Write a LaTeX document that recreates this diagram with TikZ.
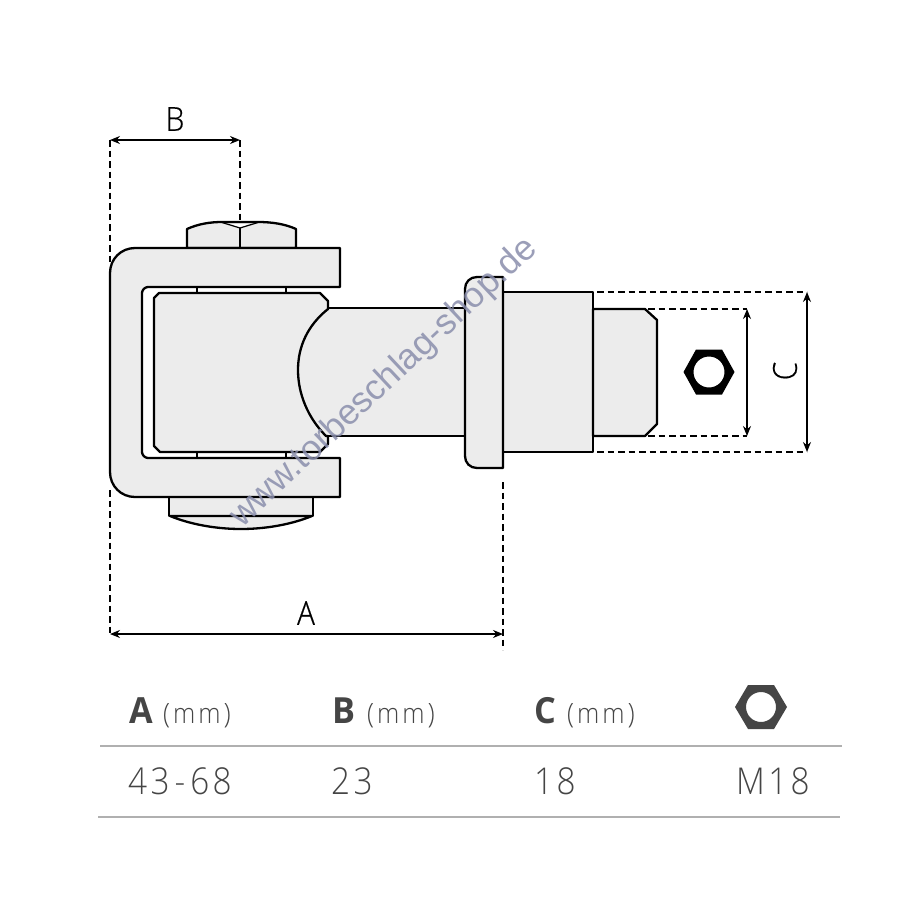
\documentclass[tikz,border=0pt]{standalone}
\usepackage{fontspec}
\setmainfont{Open Sans Light}
\newfontfamily\boldf{Open Sans}[FakeStretch=0.95]
\newfontfamily\lightf{Open Sans Light}[FakeStretch=0.9,FakeBold=0.4]
\newfontfamily\valf{Open Sans Light}[FakeStretch=0.9,LetterSpace=9]
\newfontfamily\unitf{Open Sans Light}[FakeStretch=0.9,LetterSpace=11]
\newfontfamily\wmf{Liberation Sans}
\usetikzlibrary{arrows.meta}
\definecolor{partgray}{HTML}{ECECEC}
\definecolor{inkgray}{HTML}{454545}
\definecolor{wm}{HTML}{8A8EAC}
\definecolor{rulegray}{HTML}{B0B0B0}
\tikzset{
 part/.style={draw=black,fill=partgray,line width=2.3pt,line join=round},
 outline/.style={draw=black,line width=2.3pt},
 dim/.style={draw=black,line width=1.4pt,{Stealth[length=10pt,width=8pt]}-{Stealth[length=10pt,width=8pt]}},
 ext/.style={draw=black,line width=1.2pt,dash pattern=on 6.5pt off 4pt},
 rulel/.style={draw=rulegray,line width=1.8pt},
 draw label/.style={font=\lightf\fontsize{33}{33}\selectfont,text=black,inner sep=0},
 head/.style={font=\boldf\bfseries\fontsize{36}{36}\selectfont,text=inkgray,inner sep=0,anchor=base west},
 unit/.style={font=\unitf\fontsize{28}{28}\selectfont,text=inkgray,inner sep=0,anchor=base west},
 val/.style={font=\valf\fontsize{37}{37}\selectfont,text=inkgray,inner sep=0,anchor=base west},
}
\begin{document}
\begin{tikzpicture}[x=1pt,y=-1pt]
\useasboundingbox (0,0) rectangle (900,900);
\fill[white] (0,0) rectangle (900,900);
% nuts
\draw[part] (187,248) -- (187,229) .. controls (198,224) and (210,222) .. (222,222) -- (258,222) .. controls (272,222) and (285,224) .. (296,229) -- (296,248) -- cycle;
\fill[white] (232,224) -- (248,224) -- (240,228) -- cycle;
\draw[draw=black,line width=1.2pt] (222,222.5) -- (240,228) -- (258,222.5);
\draw[outline] (240,228) -- (240,248);
\draw[part] (169,497) -- (169,516) -- (313,516) -- (313,497) -- cycle;
\draw[part] (170,516) .. controls (192,525) and (218,529) .. (241,529) .. controls (264,529) and (290,525) .. (312,516) -- cycle;
% shaft
\fill[partgray] (328,309) .. controls (308,325) and (298,346) .. (298,370) .. controls (298,394) and (308,418) .. (326,436) -- (466,436) -- (466,309) -- cycle;
\draw[outline] (328,308) -- (466,308) (326,436) -- (466,436);
% U bracket
\draw[part] (340,248) -- (135,248) .. controls (121,248) and (110,259) .. (110,273) -- (110,472) .. controls (110,486) and (121,497) .. (135,497) -- (340,497) -- (340,458) -- (148,458) .. controls (145,458) and (142,455) .. (142,452) -- (142,293) .. controls (142,290) and (145,287) .. (148,287) -- (340,287) -- cycle;
% collar ticks
\draw[outline] (197,287) -- (197,293) (286,287) -- (286,293) (197,452) -- (197,458) (286,452) -- (286,458);
% inner block
\draw[part] (159,293) -- (320,293) -- (328,301) -- (328,309) .. controls (308,325) and (298,346) .. (298,370) .. controls (298,394) and (308,418) .. (326,436) -- (328,436) -- (328,444) -- (320,452) -- (160,452) -- (154,446) -- (154,298) -- cycle;
% right parts
\draw[part] (503,292) -- (593,292) -- (593,452) -- (503,452) -- cycle;
\draw[part] (593,309) -- (645,309) -- (657,320) -- (657,424) -- (645,436) -- (593,436) -- cycle;
\draw[part] (503,277) -- (477,277) .. controls (470,277) and (465,282) .. (465,289) -- (465,456) .. controls (465,463) and (470,468) .. (477,468) -- (503,468) -- cycle;
% hex
\fill[black,even odd rule] (683.5,372) -- (696,349.5) -- (722,349.5) -- (734.5,372) -- (722,394.5) -- (696,394.5) -- cycle (709,372) circle[radius=15.5];
% dimension geometry
\coordinate (bl) at (110,140); \coordinate (br) at (240,140);
\coordinate (al) at (110,634); \coordinate (ar) at (503,634);
\coordinate (c1t) at (747,309); \coordinate (c1b) at (747,436);
\coordinate (c2t) at (807,292); \coordinate (c2b) at (807,452);
\draw[ext] (bl) -- (110,262);
\draw[ext] (110,490) -- (al);
\draw[ext] (br) -- (240,222);
\draw[ext] (503,482) -- (503,650);
\draw[ext] (597,292) -- (c2t);
\draw[ext] (597,452) -- (c2b);
\draw[ext] (648,309) -- (c1t);
\draw[ext] (648,436) -- (c1b);
\draw[dim] (bl) -- (br);
\draw[dim] (al) -- (ar);
\draw[dim] (c1t) -- (c1b);
\draw[dim] (c2t) -- (c2b);
\node[draw label] (labB) at (175,119) {B};
\node[draw label] (labA) at (306,613) {A};
\node[draw label,rotate=90] (labC) at (785,371) {C};
% table
\node[head] (hA) at (129,723) {A};
\node[unit] (uA) at (163,723) {(mm)};
\node[head] (hB) at (332,723) {B};
\node[unit] (uB) at (367,723) {(mm)};
\node[head] (hC) at (534,723) {C};
\node[unit] (uC) at (567,723) {(mm)};
\fill[inkgray,even odd rule] (735,707) -- (748,685) -- (774,685) -- (787,707) -- (774,729) -- (748,729) -- cycle (761,707) circle[radius=15];
\draw[rulel] (100,746) -- (842,746);
\draw[rulel] (98,817) -- (840,817);
\node[val] (v1) at (128,794) {43\kern5pt-\kern5pt68};
\node[val] (v2) at (331,794) {23};
\node[val] (v3) at (534,794) {18};
\node[val] (v4) at (736,794) {M18};
% watermark
\node[font=\wmf\fontsize{35.5}{36}\selectfont,text=wm,rotate=43.2,inner sep=0,opacity=.85] (wmk) at (384,383) {www.torbeschlag-shop.de};
\end{tikzpicture}
\end{document}
